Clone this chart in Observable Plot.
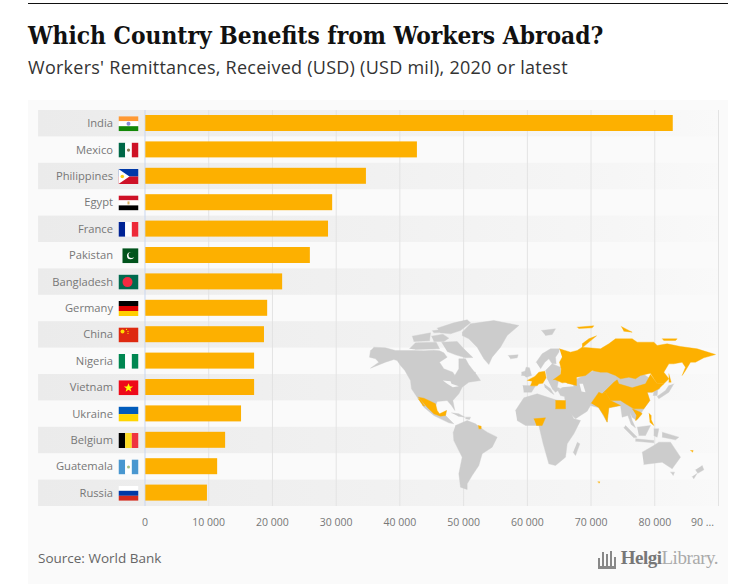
<!DOCTYPE html>
<html><head><meta charset="utf-8">
<script src="https://cdn.jsdelivr.net/npm/d3@7"></script>
<script src="https://cdn.jsdelivr.net/npm/@observablehq/plot@0.6"></script>
<style>
html,body{margin:0;background:#fff}
#wrap{position:absolute;left:28px;top:3px;width:700px;border-top:1px solid #111}
h1{font:700 24.3px "DejaVu Serif Condensed","DejaVu Serif",serif;margin:0;position:absolute;top:17px;left:0;color:#111;white-space:nowrap}
h2{font:400 18px "Open Sans",sans-serif;letter-spacing:.26px;margin:0;position:absolute;top:51px;left:0;color:#333;white-space:nowrap}
#card{position:absolute;top:96px;left:0;width:700px;height:484px;background:#fafafa}
#card svg{display:block}
#foot{position:absolute;left:10px;right:10px;top:446px;height:24px;display:flex;justify-content:space-between;align-items:center}
#src{font:400 13.5px "Open Sans",sans-serif;color:#666}
#logo{font:700 19px "Liberation Serif",serif;color:#777;display:flex;align-items:flex-end;letter-spacing:-.5px}
#logo i{font-weight:400;font-style:normal;color:#aaa}
#mark{display:flex;align-items:flex-end;gap:2px;height:18px;margin-right:5px;border-bottom:3px solid #888}
#mark b{display:block;width:2px;background:#888}
</style></head><body>
<div id="wrap">
<h1>Which Country Benefits from Workers Abroad?</h1>
<h2>Workers' Remittances, Received (USD) (USD mil), 2020 or latest</h2>
<div id="card"><div id="chart"></div>
<div id="foot"><span id="src">Source: World Bank</span>
<span id="logo"><span id="mark"><b style="height:8px"></b><b style="height:14px"></b><b style="height:12px"></b><b style="height:15px"></b><b style="height:9px"></b></span>Helgi<i>Library.</i></span></div>
</div></div>
<script>
const countries = ["India","Mexico","Philippines","Egypt","France","Pakistan","Bangladesh","Germany","China","Nigeria","Vietnam","Ukraine","Belgium","Guatemala","Russia"];
const values = [82900,42750,34750,29450,28800,25950,21600,19250,18750,17200,17200,15150,12650,11400,9800];
const tickValues = [0,10000,20000,30000,40000,50000,60000,70000,80000,90000];
const tickLabels = ["0","10 000","20 000","30 000","40 000","50 000","60 000","70 000","80 000"];
const lastTickLabel = "90 ...";

const bands = {
 India:["#ff9933","#fff","#138808"],Egypt:["#ce1126","#fff","#000"],Germany:["#000","#dd0000","#ffce00"],
 Ukraine:["#005bbb","#ffd500"],Russia:["#fff","#0039a6","#d52b1e"]};
const columns = {
 Mexico:["#006847","#fff","#ce1126"],France:["#002395","#fff","#ed2939"],Nigeria:["#008751","#fff","#008751"],
 Belgium:["#000","#fdda24","#ef3340"],Guatemala:["#4997d0","#fff","#4997d0"]};
const solid = {Bangladesh:"#006a4e",China:"#de2910",Vietnam:"#ee0a1a"};
const emblems = {
 India:'<circle cx="10" cy="7.5" r="2" fill="#8a8ad8"/>',
 Mexico:'<circle cx="10" cy="7.5" r="1.6" fill="#8a7a50"/>',
 Egypt:'<rect x="9" y="6" width="2" height="3" fill="#d8b060"/>',
 Guatemala:'<circle cx="10" cy="7.5" r="1.5" fill="#a8c080"/>',
 Bangladesh:'<circle cx="9" cy="7.5" r="5" fill="#f42a41"/>',
 China:'<circle cx="4" cy="4" r="2" fill="#ffde00"/><circle cx="8" cy="2" r=".6" fill="#ffde00"/><circle cx="9.5" cy="4" r=".6" fill="#ffde00"/><circle cx="9.5" cy="6" r=".6" fill="#ffde00"/>',
 Vietnam:'<path d="M10 3l1.3 3.2h3.3l-2.7 2 1 3.3-2.9-2-2.900 2 1-3.300-2.700-2h3.300z" fill="#ff0"/>',
 Philippines:'<rect width="20" height="7.500" fill="#0038a8"/><rect y="7.500" width="20" height="7.500" fill="#ce1126"/><path d="M0 0L11 7.500L0 15z" fill="#fff"/><circle cx="3.800" cy="7.500" r="1.800" fill="#fcd116"/>',
 Pakistan:'<rect x="4" width="16" height="15" fill="#01531c"/><circle cx="12" cy="7.500" r="3.500" fill="#fff"/><circle cx="13" cy="6.700" r="3" fill="#01531c"/>'};
function flag(name){
  let s='';
  if(bands[name]){const b=bands[name];b.forEach((c,i)=>s+=`<rect y="${i*15/b.length}" width="20" height="${15/b.length}" fill="${c}"/>`);}
  if(columns[name]){const b=columns[name];b.forEach((c,i)=>s+=`<rect x="${i*20/3}" width="${20/3}" height="15" fill="${c}"/>`);}
  if(solid[name]) s+=`<rect width="20" height="15" fill="${solid[name]}"/>`;
  s+=emblems[name]||'';
  return "data:image/svg+xml,"+encodeURIComponent(`<svg xmlns="http://www.w3.org/2000/svg" viewBox="0 0 20 15" width="20" height="15">${s}</svg>`);
}

// Land outlines, each list in its own tracing frame
const northAmericaGray = [
 [25,95,60,97,90,105,125,105,145,105,175,106,205,104,222,106,235,112,245,125,222,140,235,160,262,170,268,180,280,160,280,130,300,130,310,148,335,180,345,195,310,200,290,215,280,235,262,255,268,285,258,270,245,255,215,258,205,285,225,300,243,285,240,300,265,325,250,322,205,300,175,275,155,245,138,220,135,195,118,165,105,150,95,135,85,132,60,140,15,158,40,140,30,130,12,125,15,105],
 [228,80,275,78,295,100,322,126,300,127,270,118,245,108],[215,38,265,22,305,13,315,22,285,45,255,55,225,52],
 [140,62,195,52,192,76,145,78],[132,100,150,82,212,80,222,100,150,102],[198,62,232,56,250,68,235,78,205,78],[200,46,245,40,248,50,205,52],
 [315,172,330,170,328,182,316,180],
 [258,292,280,295,298,305,278,302],[300,305,315,305,312,312,300,310]
];
const northAmericaWater = [[232,195,255,197,258,205,280,212,262,215,245,205]];
const northAmericaOrange = [
 [158,245,175,248,190,255,210,265,215,285,222,295,243,285,240,300,225,302,205,295,185,275,170,258],
 [158,250,165,252,178,272,172,270]
];
const southGray = [
 [305,65,330,40,400,30,475,45,440,75,420,110,395,140,385,162,370,145,350,110,325,85,305,75],
 [285,345,320,330,345,340,358,350,380,365,410,380,395,410,365,430,355,465,335,495,320,520,320,537,300,530,295,490,305,440,280,390,278,365],
 [465,300,490,262,530,250,585,268,612,272,640,325,660,330,640,370,620,400,615,440,585,465,565,460,548,400,535,345,495,345,470,330],
 [650,395,658,400,645,435,638,425],
 [795,345,830,380,820,382,790,352],[825,385,880,390,880,397,825,392],[830,350,870,345,855,375,835,375],[880,355,895,355,890,380,880,375],[905,365,955,380,945,388,905,380],
 [845,425,880,405,895,395,930,395,960,440,935,475,905,455,850,462],[930,485,942,485,938,495],
 [1025,465,1030,478,1012,488,1005,478],[1010,488,1000,505,995,498]
];
const southOrange = [
 [353,345,362,347,362,355,355,355],[990,420,998,420,996,425],[712,514,718,514,716,518]
];
const europeGray = [
 [92,125,110,100,135,85,162,85,160,95,150,110,152,130,140,130,130,115,118,125,105,145],
 [55,165,62,140,72,142,78,165,62,170],[48,155,58,152,58,165,48,165],[8,105,38,103,35,112,15,115],[108,30,150,25,140,42,120,45],
 [52,195,90,196,78,215,55,215],[115,190,135,205,145,222,135,215,118,200],[125,175,160,175,155,200,165,205,150,215,140,205],
 [120,150,140,130,165,140,165,165,145,178,125,175]
];
const europeOrange = [
 [65,180,88,168,100,155,118,152,122,172,112,188,100,190,95,196,75,196,80,183],
 [143,178,165,162,195,175,185,185,170,187,150,178],
 [150,240,180,240,180,265,150,265],[85,295,120,292,110,315,93,315]
];
const europeWater = [[165,190,200,188,205,197,170,200],[222,190,232,190,240,215,228,213]];
const asiaGray = [
 [-120,205,-100,190,-70,175,0,140,100,140,170,190,178,205,155,215,140,215,148,240,130,265,118,285,108,300,95,290,88,275,95,300,105,322,92,312,82,285,65,290,60,255,25,262,20,305,-5,262,-30,255,-40,272,-75,295,-90,280,-105,250,-108,228,-120,225,-128,210],
 [160,205,172,205,170,225,158,225],[220,190,205,215,175,235,170,228,195,210,205,195]
];
const asiaOrange = [
 [-123,85,-90,95,-70,90,-55,80,0,85,25,70,45,55,95,55,110,65,160,65,170,75,200,70,240,78,290,85,345,102,310,112,285,125,270,125,255,150,245,165,255,140,245,125,220,130,205,130,190,155,205,175,190,190,170,190,150,158,120,165,105,175,85,170,60,175,45,165,20,155,0,155,-25,150,-45,165,-72,170,-72,195,-100,188,-120,175,-118,145,-123,125,-115,110],
 [5,220,40,185,50,178,55,190,95,202,135,190,150,162,170,190,190,190,175,205,155,215,140,215,148,240,130,265,100,265,75,250,60,240,30,240,15,215],
 [-28,248,-5,215,5,220,15,215,30,240,60,255,45,258,25,262,20,305,10,285,-5,262],
 [95,265,120,275,125,280,112,295,105,300,108,285],
 [145,278,152,285,152,298,160,315,148,305],[205,160,212,185,205,185],
 [-55,82,-12,46,-35,55,-55,70],[-70,20,-20,16,-25,22,-65,24],[62,18,95,35,70,32],[185,55,230,55,225,60,190,60]
];
const frame = (list,kind,ox,oy) => list.flatMap((p,i)=>{const o=[];for(let k=0;k<p.length;k+=2)o.push({id:kind+i,mx:ox+p[k]/3,my:oy+p[k+1]/3});return o;});
const grayRows = [...frame(northAmericaGray,"n",365,315),...frame(southGray,"s",360,310),...frame(europeGray,"e",505,320),...frame(asiaGray,"a",600,320)];
const waterRows = [...frame(northAmericaWater,"nw",365,315),...frame(europeWater,"ew",505,320)];
const orangeRows = [...frame(northAmericaOrange,"no",365,315),...frame(southOrange,"so",360,310),...frame(europeOrange,"eo",505,320),...frame(asiaOrange,"ao",600,320)];

function worldMap(){
  const svg = Plot.plot({
    width:368,height:180,margin:0,
    x:{domain:[360,728],axis:null},y:{domain:[310,490],reverse:true,axis:null},
    style:{background:"none"},
    marks:[
      Plot.line(grayRows,{x:"mx",y:"my",z:"id",fill:"#cccccc",stroke:"#cccccc",strokeWidth:.4,curve:"linear"}),
      Plot.line(waterRows,{x:"mx",y:"my",z:"id",fill:"#f8f8f8",stroke:"none",curve:"linear"}),
      Plot.line(orangeRows,{x:"mx",y:"my",z:"id",fill:"#fdb000",stroke:"#fdb000",strokeWidth:.4,curve:"linear"})
    ]});
  svg.setAttribute("x",332);svg.setAttribute("y",210);
  svg.style.height="180px";svg.style.width="368px";
  return svg;
}
const gradient = () => {
  const d = d3.create("svg:defs");
  const g = d.append("linearGradient").attr("id","stripe");
  [[0,"#ebebeb"],[.5,"#f1f1f1"],[.85,"#f6f6f6"],[1,"#f9f9f9"]].forEach(([o,c])=>g.append("stop").attr("offset",o).attr("stop-color",c));
  return d.node();
};
const rows = countries.map((country,i)=>({country,value:values[i],even:i%2===0,src:flag(country)}));
const xStart=-16700, flagX=-2590;

const chart = Plot.plot({
  width:700,height:430,
  marginLeft:116.5,marginRight:10,marginTop:10,marginBottom:24,
  style:{background:"none",fontFamily:"'Open Sans',sans-serif"},
  x:{domain:[0,90000],axis:null,round:false},
  y:{domain:countries,padding:0,axis:null,round:false},
  marks:[
    gradient,
    Plot.barX(rows.filter(d=>d.even),{y:"country",x1:()=>xStart,x2:()=>90000,fill:"url(#stripe)"}),
    Plot.ruleX(tickValues.slice(1),{stroke:"#e3e3e3",strokeWidth:1}),
    Plot.ruleX([0],{stroke:"#c9d6ee",strokeWidth:1}),
    worldMap,
    Plot.barX(rows,{y:"country",x1:()=>130,x2:"value",fill:"#fdb000",insetTop:5,insetBottom:5.4}),
    Plot.image(rows,{x:()=>flagX,y:"country",src:"src",width:20,height:15}),
    Plot.axisY({tickSize:0,tickPadding:4,dx:-28,fontSize:11.2,color:"#777",label:null}),
    Plot.axisX({ticks:tickValues.slice(0,-1),tickFormat:(d,i)=>tickLabels[i],tickSize:0,tickPadding:12,fontSize:10.5,color:"#777",label:null}),
    Plot.text([lastTickLabel],{x:()=>90000,frameAnchor:"bottom",lineAnchor:"top",dy:12,dx:-16,text:d=>d,fontSize:10.5,fill:"#777"})
  ]
});
document.getElementById("chart").append(chart);
</script></body></html>
